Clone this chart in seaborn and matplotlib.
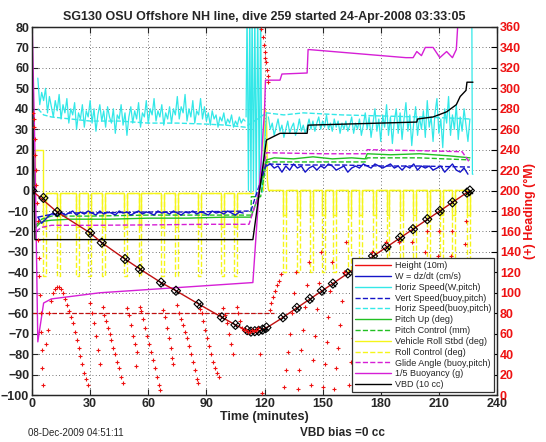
import matplotlib
matplotlib.use("Agg")
import matplotlib.pyplot as plt
import seaborn as sns
from matplotlib.lines import Line2D

# ---- data (time in minutes) ----
# height (10 m units) along the dive
height_t = [0, 13, 30, 36, 48, 55.7, 66.6, 74.3, 86, 98, 105, 110, 113, 118, 123, 128, 226]
height_v = [0, -10.5, -20.7, -25.5, -33.5, -38.4, -45, -49, -55.5, -62, -65.7, -68, -69, -68.5, -66, -63, 0]
mark_t = [0, 5.9, 13, 30, 36, 48, 55.7, 66.6, 74.3, 86, 98, 105, 111, 113, 115, 117, 119, 121,
          129.5, 136.7, 143.4, 149.6, 155.3, 163, 169, 176, 183, 190, 196.6, 204, 210.5, 217, 224.5, 226]
mark_v = [0, -3.6, -10.5, -20.7, -25.5, -33.5, -38.4, -45, -49, -55.5, -62, -65.7, -68.3, -69, -68.8,
          -68.6, -68, -67, -62, -57.4, -53, -49, -45.5, -40.5, -36.6, -32, -27.6, -23, -18.9, -14, -10, -5.8, -1, 0]
target_t = [0, 125]
target_v = [-60, -60]

# horizontal speed (W, pitch), cm/s
hspd_desc = [55, 42, 48, 44, 50, 38, 46, 41, 36, 44, 39, 47, 35, 42, 38, 45, 33, 40, 37, 43,
             30, 38, 35, 42, 31, 39, 36, 44, 33, 40,
             29, 37, 42, 34, 39, 31, 41, 36, 33, 40, 28, 37, 35, 42, 32, 38, 27, 36, 41, 33,
             39, 35, 43, 31, 38, 36, 44, 33, 40, 37, 45, 34, 39, 36, 42, 32, 38, 35, 41, 33,
             40, 37, 46, 35, 41, 38, 47, 34, 40, 36, 44, 33, 39, 37, 45, 35, 41, 34, 38, 32,
             39, 35, 37, 31, 36, 34, 38, 32, 35, 33, 37, 31, 34, 32, 36, 33, 35, 34]
hspd_surf_t = [110.5, 111, 111.7, 112.4, 113, 113.6, 114.3, 115, 115.7, 116.5, 117.3, 118, 118.7, 121]
hspd_surf_v = [36, 90, 0, 90, -1, 90, 0, 90, -2, 90, 0, 90, -1, 38]
hspd_asc = [36, 30, 33, 27, 31, 35, 29, 32, 26, 30, 34, 28, 31, 33, 27, 30, 35, 29, 32, 28,
            31, 35, 30, 34, 29, 33, 36, 30, 34, 31, 37, 30, 33, 29, 35, 31, 34, 28, 33, 30,
            34, 29, 32, 36, 28, 33, 30, 35, 27, 32, 38, 30, 36, 26, 33, 40, 29, 35, 24, 37,
            31, 42, 27, 36, 23, 34, 40, 28, 38, 25, 35, 43, 29, 37, 22, 33, 41, 27, 36, 30,
            39, 26, 44, 31, 36, 24, 38, 45, 28, 35, 21, 40, 33, 46, 27, 37, 30, 42, 25, 36,
            29, 40, 32, 24, 35]
hspd_end_t = [227, 227.3, 227.6]
hspd_end_v = [90, 8, 8]

hbuoy_t = [3, 6, 10, 20, 30, 45, 60, 75, 90, 100, 110, 121, 130, 140, 160, 180, 200, 215, 226]
hbuoy_v = [40, 37, 36, 35, 34, 34, 33, 33, 32.5, 32, 31, 38, 37, 38, 37, 36.5, 36, 35.5, 35]

# vertical speed W = dz/dt
w_desc = [-13, -16, -14, -12, -11, -12.5, -10.5, -12, -11, -10, -12, -10.5, -11.5, -10, -11, -12,
          -10, -11.5, -10.5, -11, -12, -10, -11, -10.5, -12, -11, -10, -11.5, -10.5, -11, -12, -10,
          -11, -10.5, -11.5, -10, -11, -12, -10.5, -11, -10, -11.5, -10.5, -11, -12, -10, -11, -10.5,
          -11.5, -10, -11, -12, -10.5, -11]
w_asc = [12, 13, 11, 12, 9, 12, 10, 13, 11, 12, 9, 11, 12, 10, 12, 11, 13, 12, 10, 11, 12, 9, 11,
         12, 11, 13, 12, 11, 13, 12, 11, 12, 13, 11, 12, 10, 12, 11, 13, 10, 12, 11, 12, 10, 11, 12,
         9, 11, 13, 10, 9, 11, 8]
wbuoy_t = [3, 8, 20, 40, 60, 80, 100, 113, 115, 121, 140, 160, 180, 200, 226]
wbuoy_v = [-13, -12, -11, -10.8, -10.5, -10.5, -10.2, -10, -4, 13, 12.5, 12.5, 12, 12, 11.5]

# pitch
pitch_t = [2, 4, 6, 10, 20, 40, 60, 80, 100, 113, 116, 121, 125, 135, 145, 155, 165, 172, 173, 185, 200, 215, 226]
pitch_v = [-18, -16, -15, -14.5, -14, -14, -13.5, -13.5, -13, -13, -5, 15, 16, 15.5, 16.5, 15.5, 16, 15.5, 18, 17.5, 18, 17, 16]
pctl_t = [2, 5, 10, 30, 60, 90, 112, 113, 113.2, 118, 121, 150, 172, 173, 200, 226]
pctl_v = [-17, -14, -12.5, -12.5, -12, -12, -12, -12, -3, -3, 14, 14, 14, 16, 16, 15]
glide_t = [2, 5, 10, 30, 60, 90, 112, 116, 121, 150, 172, 173, 200, 222, 226]
glide_v = [-20, -18, -17, -17, -16.8, -16.5, -16.5, -5, 18.5, 18, 18, 20, 19.5, 19, 13.5]

# roll (square pulses at each turn)
roll_base_desc = -1
roll_base_asc = 0.5
turn_desc = [5.5, 13, 22.5, 29, 36, 47.5, 55, 66.5, 74, 85.5, 97.5, 104.5]
turn_asc = [129.5, 136.7, 143.4, 149.6, 155.3, 163, 169, 176, 183, 190, 196.6, 204, 210.5, 217, 224.5]
roll_low = -18
rollctl_low = -42
pulse_w = 1.5

# 1/5 buoyancy (g)
buoy_t = [0, 1.5, 3, 6, 10, 35, 114, 120, 120.5, 128, 129, 142, 142.5, 193, 196.7, 198.6, 201, 203,
          207, 210.5, 214, 217, 219, 220, 222, 227]
buoy_v = [85, 20, -74, -55, -53, -50, -45, 39, 54, 54, 57, 57.5, 69, 65, 65, 68, 66, 70, 70, 65,
          68, 65, 69, 85, 90, 90]

# VBD (10 cc)
vbd_t = [0, 1.5, 114, 121, 128, 142, 142.5, 198.6, 199, 207, 214, 219, 221, 224, 224.5, 227.6]
vbd_v = [60, -24, -24, 24.7, 28, 28, 32, 33.5, 35, 36, 38.5, 42, 46, 49, 53, 53]

# heading (deg M), right axis
head_t = [0.5, 0.8, 1.1, 1.4, 1.7, 2.0, 2.3, 2.6, 2.9, 3.2, 3.5, 3.8, 4.1, 4.4, 4.7, 5.0, 5.3, 5.6,
          7, 8, 9, 10, 11, 12, 13, 14, 15, 16, 17, 18, 19, 20, 21, 22, 23, 24, 25, 26, 27, 28, 29,
          30, 31, 32, 33, 34, 35,
          36.5, 37, 38, 39, 40, 41, 42, 43, 44, 45, 46, 47,
          49, 50, 51, 52, 53, 54, 53.5,
          55.7, 56.5, 57.5, 58.5, 59.5, 60.5, 61.5, 62.5, 63.5, 64.5, 65.5, 66,
          67.6, 68.5, 69.5, 70.5, 71.5, 72.5, 73,
          75, 76, 77, 78, 79, 80, 81, 82, 83, 84, 85, 85.7,
          86.7, 87.5, 88.5, 89.5, 90.5, 91.5, 92.5, 93.5, 94.5, 95.5, 96.5,
          98.6, 99.5, 100.5, 101.5, 102.5, 103.5,
          105.7, 106.5, 107.5, 108.5, 109.5, 110.5, 111.5, 112.5, 113.5, 114.5, 115.5, 116.5,
          117.6, 118.6,
          118, 119, 119.5, 120, 120.5, 121, 121.3, 121.6, 122,
          122.8, 123.5, 124.5, 125.5, 126.5, 127.5, 128.5,
          130, 131, 132, 133, 134, 135, 136,
          137.2, 138, 139, 140, 141, 142, 143,
          143.9, 145, 146, 147, 148, 149,
          150.1, 151, 152, 153, 154, 155,
          155.8, 157, 158, 159, 160, 161, 162,
          163.5, 164.5, 165.5, 166.5, 167.5, 168.5,
          169.5, 170.5, 171.5, 172.5, 173.5, 174.5, 175.5,
          176.5, 177.5, 178.5, 179.5, 180.5, 181.5, 182.5,
          183.5, 184.5, 185.5, 186.5, 187.5, 188.5, 189.5,
          190.5, 191.5, 192.5, 193.5, 194.5, 195.5, 196.2,
          197.1, 198, 199, 200, 201, 202, 203, 203.7,
          204.5, 205.5, 206.5, 207.5, 208.5, 209.5, 210.2,
          211, 212, 213, 214, 215, 216, 216.7,
          217.5, 218.5, 219.5, 220.5, 221.5, 222.5, 223.5, 224.2]
head_v = [276, 270, 262, 250, 235, 220, 205, 188, 170, 152, 134, 116, 98, 80, 62, 44, 26, 10,
          50, 64, 80, 92, 100, 104, 106, 106, 104, 100, 94, 88, 82, 76, 70, 62, 54, 46, 38, 30, 22, 16, 10,
          90, 80, 70, 58, 44, 30,
          86, 78, 72, 66, 60, 54, 46, 40, 32, 26, 18, 12,
          85, 78, 68, 58, 50, 42, 28,
          86, 82, 74, 66, 58, 50, 42, 34, 26, 18, 10, 5,
          83, 76, 66, 56, 46, 36, 30,
          88, 80, 74, 68, 62, 56, 48, 40, 32, 24, 16, 12,
          84, 80, 72, 64, 56, 48, 40, 32, 26, 22, 18,
          85, 78, 70, 60, 50, 40,
          86, 80, 72, 66, 64, 64, 62, 62, 64, 63, 64, 66,
          40, 2,
          358, 350, 342, 336, 330, 326, 318, 312, 306,
          83, 90, 96, 102, 108, 112, 118,
          8, 24, 42, 60, 80, 100, 120,
          6, 24, 44, 64, 86, 108, 130,
          10, 34, 58, 84, 110, 140,
          8, 30, 52, 76, 102, 130,
          6, 26, 46, 68, 92, 120, 150,
          10, 32, 56, 80, 104, 130,
          8, 28, 50, 74, 98, 120, 140,
          6, 28, 50, 74, 98, 124, 150,
          10, 32, 56, 80, 104, 128, 150,
          8, 30, 54, 78, 104, 128, 150,
          10, 28, 48, 70, 92, 116, 140, 160,
          12, 36, 60, 86, 110, 136, 160,
          10, 34, 58, 84, 110, 136, 160,
          14, 34, 56, 78, 100, 124, 148, 170]

# ---- colours ----
RED = "#ee1111"
BLUE = "#1515c8"
CYAN = "#33e8e8"
GREEN = "#22c022"
YELLOW = "#f5f51a"
MAGENTA = "#d61fd6"


def pulses(turns, base, low, w, t0, t1):
    """square pulses at turn times, flat at base between"""
    xs, ys = [t0], [base]
    for tp in turns:
        xs += [tp, tp, tp + w, tp + w]
        ys += [base, low, low, base]
    xs.append(t1)
    ys.append(base)
    return xs, ys


def line(ax, x, y, color, ls="-", lw=1.0, z=2):
    sns.lineplot(x=x, y=y, ax=ax, color=color, linestyle=ls, lw=lw,
                 estimator=None, sort=False, zorder=z)


sns.set_style("ticks")
plt.rcParams['font.family'] = ['Liberation Sans', 'DejaVu Sans']

fig = plt.figure(figsize=(5.46, 4.42), dpi=100)
ax = fig.add_axes([32 / 546, 1 - 395 / 442, 465 / 546, 368 / 442])

t_desc = list(range(3, 3 + len(hspd_desc)))
t_asc = list(range(122, 122 + len(hspd_asc)))
tw_desc = list(range(3, 3 + 2 * len(w_desc), 2))
tw_asc = list(range(121, 121 + 2 * len(w_asc), 2))

# roll lines
rx, ry = pulses(turn_desc, roll_base_desc, roll_low, pulse_w, 5.7, 114)
line(ax, rx, ry, YELLOW, lw=1.0)
rx, ry = pulses(turn_asc, roll_base_asc, -12, pulse_w, 122, 226)
line(ax, rx, ry, YELLOW, lw=1.0)
line(ax, [1.5, 1.5, 5.7, 5.7], [0, 20, 20, -1], YELLOW, lw=1.0)
line(ax, [119.5, 120, 121, 121.5, 122], [0, 40, 38, 5, 0.5], YELLOW, lw=1.0)
cx, cy = pulses(turn_desc, roll_base_desc, rollctl_low, pulse_w, 5.7, 114)
line(ax, cx, cy, YELLOW, ls="--", lw=1.0)
cx, cy = pulses(turn_asc, roll_base_asc, -40, pulse_w, 122, 226)
line(ax, cx, cy, YELLOW, ls="--", lw=1.0)

# speeds
line(ax, t_desc, hspd_desc, CYAN, lw=0.9)
line(ax, hspd_surf_t, hspd_surf_v, CYAN, lw=0.9)
line(ax, t_asc, hspd_asc, CYAN, lw=0.9)
line(ax, hspd_end_t, hspd_end_v, CYAN, lw=0.9)
line(ax, hbuoy_t, hbuoy_v, CYAN, ls="--", lw=1.0)
line(ax, pctl_t, pctl_v, GREEN, ls="--", lw=1.0)
line(ax, pitch_t, pitch_v, GREEN, lw=1.0)
line(ax, glide_t, glide_v, MAGENTA, ls="--", lw=1.0)
line(ax, tw_desc, w_desc, BLUE, lw=1.0)
line(ax, tw_asc, w_asc, BLUE, lw=1.0)
line(ax, wbuoy_t, wbuoy_v, BLUE, ls="--", lw=1.0)
line(ax, buoy_t, buoy_v, MAGENTA, lw=1.0)
line(ax, vbd_t, vbd_v, "k", lw=1.0)
line(ax, target_t, target_v, "#c01010", ls="--", lw=0.9)
line(ax, height_t, height_v, "#c01010", lw=1.0, z=3)
sns.scatterplot(x=mark_t, y=mark_v, ax=ax, marker="D", s=22, facecolor="none",
                edgecolor="k", linewidth=0.8, zorder=4)
sns.scatterplot(x=mark_t, y=mark_v, ax=ax, marker="x", s=14, color="k",
                linewidth=0.8, zorder=4)

ax.set_xlim(0, 240)
ax.set_ylim(-100, 80)
ax.set_xticks(range(0, 241, 30))
ax.set_yticks(range(-100, 81, 10))
ax.grid(True, linestyle=(0, (1, 3)), color="#444444", lw=0.6)
ax.tick_params(direction="in", length=4, labelsize=9, top=True, pad=2)
for lab in ax.get_xticklabels() + ax.get_yticklabels():
    lab.set_fontweight("bold")
ax.set_xlabel("Time (minutes)", fontsize=9, fontweight="bold", labelpad=1)
ax.set_title("SG130 OSU Offshore NH line, dive 259 started 24-Apr-2008 03:33:05",
             fontsize=9, fontweight="bold", pad=5)

ax2 = ax.twinx()
sns.scatterplot(x=head_t, y=head_v, ax=ax2, marker="+", s=10, color=RED,
                linewidth=0.8, zorder=3)
ax2.set_ylim(0, 360)
ax2.set_yticks(range(0, 361, 20))
ax2.tick_params(direction="in", length=4, labelsize=9, colors="k", labelcolor=RED, pad=2)
for lab in ax2.get_yticklabels():
    lab.set_fontweight("bold")
ax2.set_ylabel("(+) Heading (\u00b0M)", color=RED, fontsize=9, fontweight="bold", labelpad=2)
for sp in ax2.spines.values():
    sp.set_linewidth(0.9)
for sp in ax.spines.values():
    sp.set_linewidth(0.9)

legend_items = [
    ("Height (10m)", RED, "-"),
    ("W = dz/dt (cm/s)", BLUE, "-"),
    ("Horiz Speed(W,pitch)", CYAN, "-"),
    ("Vert Speed(buoy,pitch)", BLUE, "--"),
    ("Horiz Speed(buoy,pitch)", CYAN, "--"),
    ("Pitch Up (deg)", GREEN, "-"),
    ("Pitch Control (mm)", GREEN, "--"),
    ("Vehicle Roll Stbd (deg)", YELLOW, "-"),
    ("Roll Control (deg)", YELLOW, "--"),
    ("Glide Angle (buoy,pitch)", MAGENTA, "--"),
    ("1/5 Buoyancy (g)", MAGENTA, "-"),
    ("VBD (10 cc)", "k", "-"),
]
handles = [Line2D([], [], color=c, linestyle=ls, lw=1.0) for _, c, ls in legend_items]
labels = [n for n, _, _ in legend_items]
leg = ax2.legend(handles, labels, loc="lower right", fontsize=6.5, handlelength=4,
                 handletextpad=0.4, labelspacing=0.2, borderpad=0.35,
                 borderaxespad=0.3, frameon=True, fancybox=False, framealpha=1)
leg.get_frame().set_edgecolor("#333333")
leg.get_frame().set_linewidth(0.9)

fig.text(28 / 546, 1 - 433 / 442, "08-Dec-2009 04:51:11", fontsize=7, va="center")
fig.text(300 / 546, 1 - 433 / 442, "VBD bias =0 cc", fontsize=8.5, fontweight="bold", va="center")

fig.savefig("out.png", dpi=100)
